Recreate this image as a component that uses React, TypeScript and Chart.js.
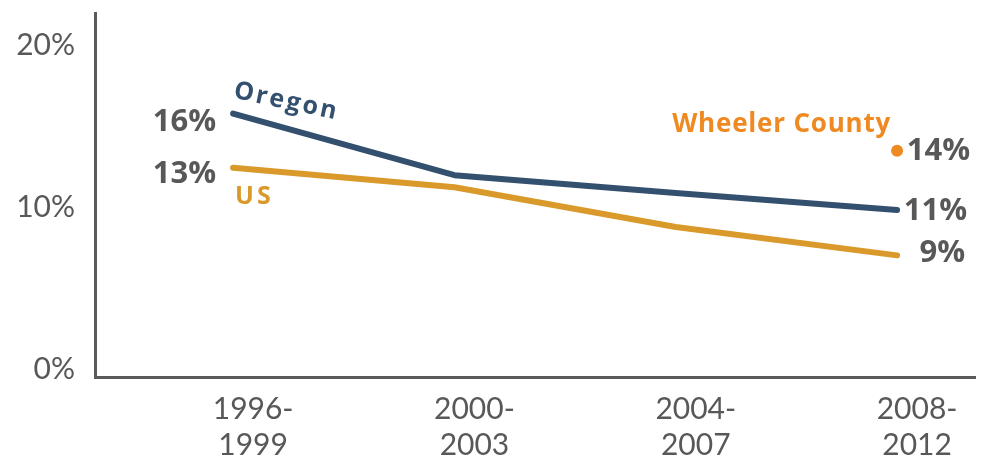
import React, { useEffect, useRef } from "react";
import { Chart, registerables } from "chart.js";

Chart.register(...registerables);

const periods = [["1996-", "1999"], ["2000-", "2003"], ["2004-", "2007"], ["2008-", "2012"]];
const oregon = [15.8, 12.0, 10.9, 9.85];
const us = [12.45, 11.25, 8.8, 7.05];
const wheeler = [{ x: 3, y: 13.5 }];
const yTicks = [0, 10, 20];
const oregonLabels = ["16%", "11%"];
const usLabels = ["13%", "9%"];
const wheelerLabel = "14%";

const BLUE = "#34506f";
const GOLD = "#d99a2b";
const ORANGE = "#ef8a22";
const GRAY = "#585858";
const FONT = "Lato, 'Open Sans', sans-serif";
const BOLD = "'Open Sans', Lato, sans-serif";

const annotations = {
  id: "annotations",
  afterDatasetsDraw(chart: any) {
    const { ctx, scales } = chart;
    const x = scales.x;
    const y = scales.y;
    const px = (v: number) => x.getPixelForValue(v);
    const py = (v: number) => y.getPixelForValue(v);
    const last = oregon.length - 1;
    ctx.save();
    ctx.textBaseline = "middle";
    ctx.font = `bold 31px ${BOLD}`;
    ctx.fillStyle = GRAY;
    ctx.textAlign = "right";
    ctx.fillText(oregonLabels[0], px(0) - 17, py(oregon[0]) + 9);
    ctx.fillText(usLabels[0], px(0) - 17, py(us[0]) + 6);
    ctx.fillText(oregonLabels[1], px(last) + 70, py(oregon[last]) + 1);
    ctx.fillText(usLabels[1], px(last) + 68, py(us[last]) - 2);
    ctx.fillText(wheelerLabel, px(wheeler[0].x) + 73, py(wheeler[0].y));

    ctx.font = `bold 26px ${BOLD}`;
    (ctx as any).letterSpacing = "0.8px";
    ctx.fillStyle = ORANGE;
    ctx.fillText("Wheeler County", px(wheeler[0].x) - 6, py(wheeler[0].y) - 26);

    ctx.font = `bold 25px ${BOLD}`;
    ctx.fillStyle = GOLD;
    ctx.textAlign = "left";
    (ctx as any).letterSpacing = "3px";
    ctx.fillText("US", px(0) + 2, py(us[0]) + 29);

    ctx.fillStyle = BLUE;
    ctx.save();
    ctx.translate(px(0) + 1, py(oregon[0]) - 23);
    ctx.rotate((12 * Math.PI) / 180);
    ctx.textAlign = "left";
    (ctx as any).letterSpacing = "2.5px";
    ctx.fillText("Oregon", 0, 0);
    ctx.restore();
    ctx.restore();
  },
};

export default function App() {
  const ref = useRef<HTMLCanvasElement>(null);
  useEffect(() => {
    document.body.style.margin = "0";
    const chart = new Chart(ref.current!, {
      type: "line",
      data: {
        datasets: [
          {
            label: "Oregon",
            data: oregon.map((v, i) => ({ x: i, y: v })),
            borderColor: BLUE,
            borderWidth: 6,
            pointRadius: 0,
            borderCapStyle: "round",
            borderJoinStyle: "round",
            tension: 0,
          },
          {
            label: "US",
            data: us.map((v, i) => ({ x: i, y: v })),
            borderColor: GOLD,
            borderWidth: 6,
            pointRadius: 0,
            borderCapStyle: "round",
            borderJoinStyle: "round",
            tension: 0,
          },
          {
            label: "Wheeler County",
            data: wheeler,
            showLine: false,
            pointRadius: 6,
            pointBackgroundColor: ORANGE,
            pointBorderWidth: 0,
            borderColor: ORANGE,
          },
        ],
      },
      options: {
        animation: false,
        responsive: false,
        maintainAspectRatio: false,
        layout: { padding: { top: 13, right: 15, left: 0, bottom: 0 } },
        plugins: { legend: { display: false }, tooltip: { enabled: false } },
        scales: {
          x: {
            type: "linear",
            min: -0.624,
            max: 3.352,
            grid: { display: false },
            border: { display: true, color: "#5a5a5a", width: 3 },
            afterBuildTicks: (s: any) => {
              s.ticks = periods.map((_, i) => ({ value: i }));
            },
            afterFit: (s: any) => {
              s.height = 80;
              s.paddingLeft = 0;
              s.paddingRight = 0;
            },
            ticks: {
              callback: (v: any) => periods[v as number],
              color: GRAY,
              padding: 6,
              labelOffset: 20,
              maxRotation: 0,
              autoSkip: false,
              font: { family: FONT, size: 30, weight: "400", lineHeight: 1.2 },
            },
          },
          y: {
            min: -0.45,
            max: 22,
            grid: { display: false },
            border: { display: true, color: "#5a5a5a", width: 3 },
            afterBuildTicks: (s: any) => {
              s.ticks = yTicks.map((v) => ({ value: v }));
            },
            afterFit: (s: any) => {
              s.width = 95;
              s.paddingTop = 0;
              s.paddingBottom = 0;
            },
            ticks: {
              callback: (v: any) => `${v}%`,
              color: GRAY,
              padding: 12,
              font: { family: FONT, size: 30, weight: "400" },
            },
          },
        },
      },
      plugins: [annotations],
    } as any);
    return () => chart.destroy();
  }, []);
  return (
    <div style={{ width: 990, height: 457 }}>
      <canvas ref={ref} width={990} height={457} style={{ display: "block" }} />
    </div>
  );
}
